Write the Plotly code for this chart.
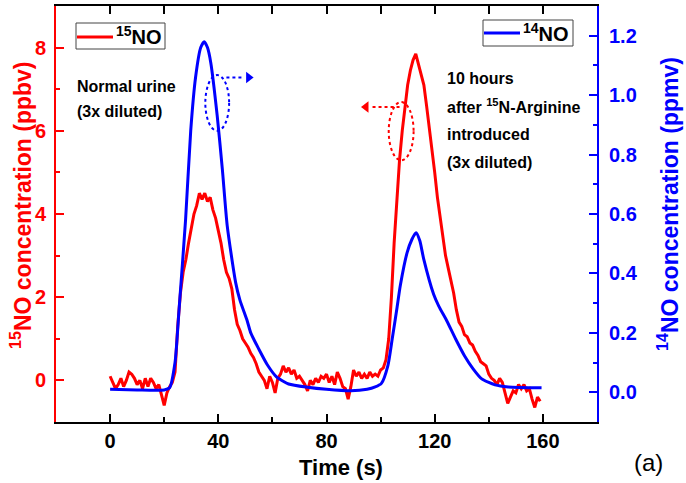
import plotly.graph_objects as go

# ---------------- data ----------------
t_15no = list(range(0, 160))
no15_ppbv = [
    0.10, -0.05, -0.20, -0.10, 0.05, -0.15, 0.00, 0.20, 0.15, 0.05,
    -0.10, 0.00, -0.20, 0.05, -0.15, 0.05, -0.05, -0.20, -0.10, -0.35,
    -0.60, -0.30, -0.15, -0.05, 0.20, 1.30, 2.10, 2.60, 2.90, 3.30,
    3.70, 4.00, 4.20, 4.50, 4.35, 4.50, 4.30, 4.40, 4.10, 3.90,
    3.60, 3.30, 2.90, 2.60, 2.45, 2.20, 1.70, 1.35, 1.20, 1.00,
    0.90, 0.80, 0.65, 0.55, 0.40, 0.20, 0.10, 0.00, -0.20, 0.10,
    -0.05, -0.30, 0.05, 0.15, 0.35, 0.20, 0.30, 0.15, 0.25, 0.05,
    0.10, 0.00, -0.10, -0.25, 0.00, -0.10, 0.05, -0.05, 0.10, 0.05,
    0.15, -0.05, 0.10, -0.10, 0.20, 0.05, -0.15, -0.20, -0.45, -0.15,
    0.25, 0.10, 0.20, 0.05, 0.15, 0.05, 0.20, 0.10, 0.15, 0.10,
    0.25, 0.30, 0.50, 1.00, 2.00, 3.30, 4.30, 5.30, 6.00, 6.60,
    7.10, 7.45, 7.70, 7.85, 7.60, 7.40, 7.10, 6.60, 6.10, 5.60,
    5.00, 4.40, 3.90, 3.40, 3.00, 2.70, 2.40, 2.10, 1.70, 1.40,
    1.30, 1.10, 1.05, 0.90, 0.85, 0.70, 0.60, 0.45, 0.40, 0.35,
    0.15, 0.05, 0.00, -0.10, 0.05, -0.05, -0.30, -0.55, -0.40, -0.25,
    -0.30, -0.10, -0.20, -0.10, -0.25, -0.20, -0.45, -0.65, -0.40, -0.50,
]

t_14no = [0, 10, 20, 22, 24, 25.5, 27.9, 29.8, 31.6, 33.5, 34.8, 36, 37.2,
          39.6, 41.5, 43.3, 46.4, 48, 50.7, 52, 55, 58.3, 61.5, 66, 73, 80,
          89, 95, 98, 100.3, 102.7, 104.3, 106, 107.3, 109.8, 111.6, 113.1,
          114.5, 115.9, 119.6, 121.5, 124.5, 127.7, 131, 134.2, 137.4, 142.3,
          147.2, 159.5]
no14_ppmv = [0.010, 0.008, 0.008, 0.015, 0.10, 0.28, 0.58, 0.88, 1.06, 1.16,
             1.18, 1.16, 1.11, 0.93, 0.75, 0.56, 0.37, 0.31, 0.24, 0.20,
             0.145, 0.09, 0.052, 0.028, 0.017, 0.010, 0.005, 0.010, 0.018,
             0.03, 0.09, 0.18, 0.28, 0.36, 0.47, 0.515, 0.537, 0.51, 0.45,
             0.33, 0.29, 0.24, 0.18, 0.123, 0.079, 0.045, 0.025, 0.018, 0.015]

x_ticks = [0, 40, 80, 120, 160]
x_minor = [20, 60, 100, 140]
x_top_ticks = [0, 20, 40, 60, 80, 100, 120, 140, 160]
yl_ticks = [0, 2, 4, 6, 8]
yl_minor = [1, 3, 5, 7]
yr_ticks = [0.0, 0.2, 0.4, 0.6, 0.8, 1.0, 1.2]
yr_labels = ["0.0", "0.2", "0.4", "0.6", "0.8", "1.0", "1.2"]
yr_minor = [0.1, 0.3, 0.5, 0.7, 0.9, 1.1]

RED = "#FF0000"
BLUE = "#0000FF"
FONT = "Liberation Sans, Arial, sans-serif"

L, R, T, B = 56, 89, 6, 61
W, H = 686, 483
PW, PH = W - L - R, H - T - B


def px2paper_x(px):
    return (px - L) / PW


def px2paper_y(py):
    return (H - B - py) / PH


# ---------------- figure ----------------
fig = go.Figure()
fig.add_trace(go.Scatter(x=t_15no, y=no15_ppbv, mode="lines", name="15NO",
                         line=dict(color=RED, width=3), showlegend=False))
fig.add_trace(go.Scatter(x=t_14no, y=no14_ppmv, mode="lines", name="14NO",
                         line=dict(color=BLUE, width=3, shape="spline", smoothing=0.6),
                         yaxis="y2", showlegend=False))
# invisible trace for the top axis
fig.add_trace(go.Scatter(x=[0], y=[0], xaxis="x2", mode="markers",
                         marker=dict(opacity=0), showlegend=False, hoverinfo="skip"))

# arrow heads of the dotted pointers
fig.add_trace(go.Scatter(x=[51.2], y=[7.28], mode="markers", showlegend=False,
                         marker=dict(symbol="triangle-right", size=10, color=BLUE)))
fig.add_trace(go.Scatter(x=[94.6], y=[6.57], mode="markers", showlegend=False,
                         marker=dict(symbol="triangle-left", size=10, color=RED)))

shapes = [
    dict(type="circle", xref="x", yref="y", x0=35.2, x1=44.0, y0=6.0, y1=7.34,
         line=dict(color=BLUE, width=2, dash="dot")),
    dict(type="line", xref="x", yref="y", x0=43.0, x1=49.5, y0=7.28, y1=7.28,
         line=dict(color=BLUE, width=2, dash="dot")),
    dict(type="circle", xref="x", yref="y", x0=103.0, x1=112.2, y0=5.29, y1=6.69,
         line=dict(color=RED, width=2, dash="dot")),
    dict(type="line", xref="x", yref="y", x0=107.0, x1=96.5, y0=6.57, y1=6.57,
         line=dict(color=RED, width=2, dash="dot")),
]

# legend boxes (drawn manually to match the two separate boxes)
legend_items = [
    # (box x0, box x1, box y0, box y1, line x1, line y, color, label)
    (76, 165, 23, 49, 113, 37, RED, "<sup>15</sup>NO"),
    (483, 573, 20, 46, 520, 33, BLUE, "<sup>14</sup>NO"),
]
legend_annots = []
for bx0, bx1, by0, by1, lx1, ly, col, lab in legend_items:
    shapes.append(dict(type="rect", xref="paper", yref="paper",
                       x0=px2paper_x(bx0), x1=px2paper_x(bx1),
                       y0=px2paper_y(by1), y1=px2paper_y(by0),
                       fillcolor="white", line=dict(color="#444444", width=1), layer="above"))
    shapes.append(dict(type="line", xref="paper", yref="paper",
                       x0=px2paper_x(bx0 + 1), x1=px2paper_x(lx1),
                       y0=px2paper_y(ly), y1=px2paper_y(ly),
                       line=dict(color=col, width=3), layer="above"))
    legend_annots.append(dict(text=lab, x=px2paper_x(lx1 + 1), y=px2paper_y(ly - 1),
                              xanchor="left", yanchor="middle",
                              font=dict(family=FONT, size=20, color="black", weight="bold")))

tickfont = dict(family=FONT, size=20, weight="bold")

fig.update_layout(
    width=W, height=H,
    margin=dict(l=L, r=R, t=T, b=B),
    paper_bgcolor="white", plot_bgcolor="white",
    font=dict(family=FONT),
    shapes=shapes,
    showlegend=False,
    xaxis=dict(range=[-20, 180], showline=True, linecolor="black", linewidth=2,
               ticks="inside", tickvals=x_ticks, ticklen=8, tickwidth=2, tickcolor="black",
               minor=dict(tickvals=x_minor, ticks="inside", ticklen=5, tickwidth=2, tickcolor="black"),
               showgrid=False, zeroline=False, tickfont=dict(tickfont, color="black"),
               ticklabelstandoff=0),
    xaxis2=dict(range=[-20, 180], overlaying="x", side="top", showline=True,
                linecolor="black", linewidth=2, ticks="inside", tickvals=x_top_ticks,
                ticklen=8, tickwidth=2, tickcolor="black", showticklabels=False,
                showgrid=False, zeroline=False),
    yaxis=dict(range=[-1, 9], showline=True, linecolor=RED, linewidth=2,
               ticks="inside", tickvals=yl_ticks, ticklen=8, tickwidth=2, tickcolor=RED,
               minor=dict(tickvals=yl_minor, ticks="inside", ticklen=4, tickwidth=2, tickcolor=RED),
               showgrid=False, zeroline=False, tickfont=dict(tickfont, color=RED),
               ticklabelstandoff=4),
    yaxis2=dict(range=[-0.1, 1.3], overlaying="y", side="right", showline=True,
                linecolor=BLUE, linewidth=2, ticks="inside", tickvals=yr_ticks,
                ticktext=yr_labels, ticklen=8, tickwidth=2, tickcolor=BLUE,
                minor=dict(tickvals=yr_minor, ticks="inside", ticklen=4, tickwidth=2, tickcolor=BLUE),
                showgrid=False, zeroline=False, tickfont=dict(tickfont, color=BLUE),
                ticklabelstandoff=6),
)

annotations = [
    dict(text="<sup>15</sup>NO concentration (ppbv)", x=px2paper_x(21), y=px2paper_y(205),
         textangle=-90, xanchor="center", yanchor="middle",
         font=dict(family=FONT, size=23, color=RED, weight="bold")),
    dict(text="<sup>14</sup>NO concentration (ppmv)", x=px2paper_x(668), y=px2paper_y(204),
         textangle=-90, xanchor="center", yanchor="middle",
         font=dict(family=FONT, size=23, color=BLUE, weight="bold")),
    dict(text="Time (s)", x=px2paper_x(341), y=px2paper_y(467),
         xanchor="center", yanchor="middle",
         font=dict(family=FONT, size=22, color="black", weight="bold")),
    dict(text="(a)", x=px2paper_x(648), y=px2paper_y(462),
         xanchor="center", yanchor="middle",
         font=dict(family=FONT, size=24, color="black")),
]
text_lines = [
    ("Normal urine", 75, 86),
    ("(3x diluted)", 75, 111),
    ("10 hours", 445, 78),
    ("after <sup>15</sup>N-Arginine", 445, 106),
    ("introduced", 445, 134),
    ("(3x diluted)", 445, 162),
]
for txt, px, py in text_lines:
    annotations.append(dict(text=txt, x=px2paper_x(px), y=px2paper_y(py),
                            xanchor="left", yanchor="middle",
                            font=dict(family=FONT, size=16, color="black", weight="bold")))
annotations += legend_annots
for a in annotations:
    a.update(xref="paper", yref="paper", showarrow=False)
fig.update_layout(annotations=annotations)

fig.write_html("out.html", config={"displayModeBar": False},
               post_script="document.body.style.margin='0';document.body.style.overflow='hidden';")
